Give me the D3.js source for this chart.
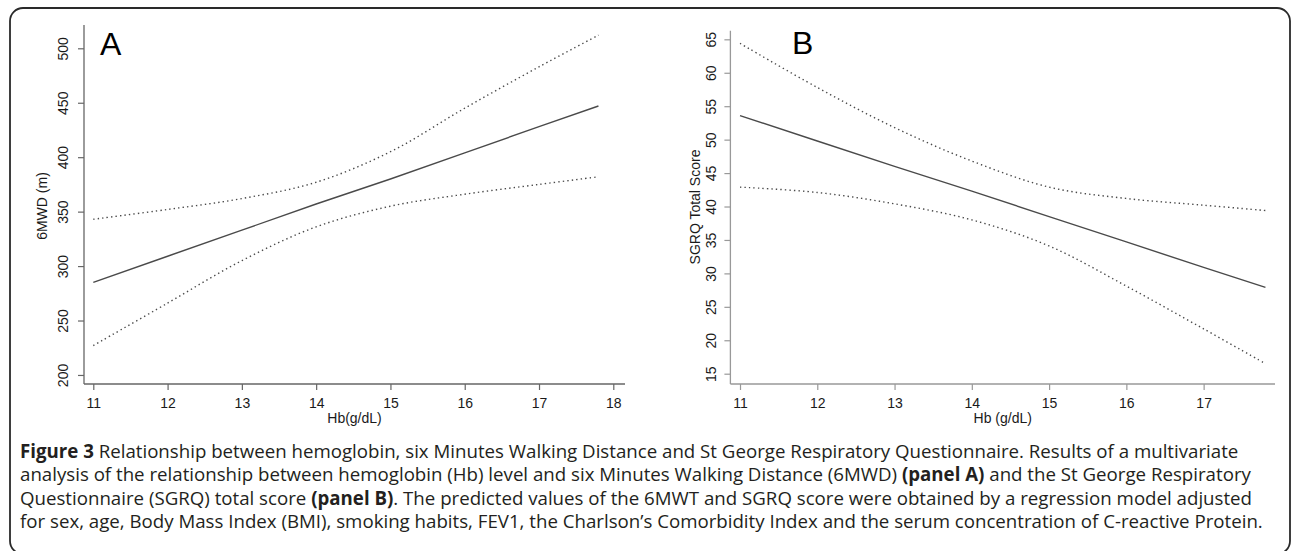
<!DOCTYPE html>
<html>
<head>
<meta charset="utf-8">
<script src="https://cdn.jsdelivr.net/npm/d3@7"></script>
<style>
  html, body { margin: 0; padding: 0; background: #fff; }
  svg { display: block; }
</style>
</head>
<body>
<svg id="chart" width="1292" height="551"></svg>
<script>
// ---- data ----
const hb = [11, 12, 13, 14, 15, 16, 17, 17.8];

// Panel A: 6MWD (m)
const mwdFit   = [285, 309, 333, 357, 380, 404, 428, 447];
const mwdUpper = [343, 352, 362, 377, 405, 445, 483, 512];
const mwdLower = [227, 266, 305, 336, 355, 366, 375, 382];

// Panel B: SGRQ total score
const sgrqFit   = [53.6, 49.8, 46.0, 42.3, 38.5, 34.7, 30.9, 27.9];
const sgrqUpper = [64.4, 57.8, 51.8, 46.8, 42.9, 41.2, 40.2, 39.4];
const sgrqLower = [42.9, 42.1, 40.4, 38.0, 34.1, 28.1, 21.7, 16.5];

const ticksA_x = [11, 12, 13, 14, 15, 16, 17, 18];
const ticksA_y = [200, 250, 300, 350, 400, 450, 500];
const ticksB_x = [11, 12, 13, 14, 15, 16, 17];
const ticksB_y = [15, 20, 25, 30, 35, 40, 45, 50, 55, 60, 65];

const captionLines = [
  [["Figure 3", true], [" Relationship between hemoglobin, six Minutes Walking Distance and St George Respiratory Questionnaire. Results of a multivariate", false]],
  [["analysis of the relationship between hemoglobin (Hb) level and six Minutes Walking Distance (6MWD) ", false], ["(panel A)", true], [" and the St George Respiratory", false]],
  [["Questionnaire (SGRQ) total score ", false], ["(panel B)", true], [". The predicted values of the 6MWT and SGRQ score were obtained by a regression model adjusted", false]],
  [["for sex, age, Body Mass Index (BMI), smoking habits, FEV1, the Charlson\u2019s Comorbidity Index and the serum concentration of C-reactive Protein.", false]]
];

// ---- drawing ----
const svg = d3.select("#chart");
const FONT = "Liberation Sans, Arial, Helvetica, sans-serif";

// frame
svg.append("rect")
  .attr("x", 10).attr("y", 8).attr("width", 1280).attr("height", 546)
  .attr("rx", 13).attr("ry", 13)
  .attr("fill", "none").attr("stroke", "#2a2a2a").attr("stroke-width", 1.8);

function panel(cfg) {
  const x = d3.scaleLinear().domain(cfg.xDomain).range(cfg.xRange);
  const y = d3.scaleLinear().domain(cfg.yDomain).range(cfg.yRange);
  const g = svg.append("g");

  // x axis
  const xa = g.append("g")
    .attr("transform", `translate(0,${cfg.yRange[0]})`)
    .call(d3.axisBottom(x).tickValues(cfg.xTicks).tickFormat(d3.format("d"))
      .tickSize(6).tickPadding(8).tickSizeOuter(0));
  xa.attr("font-family", FONT).attr("font-size", 14);
  xa.select(".domain").attr("stroke", cfg.axisColor).attr("stroke-width", 1.3)
    .attr("d", `M${cfg.xRange[0]},0H${cfg.xRange[1]}`);
  xa.selectAll(".tick line").attr("stroke", cfg.axisColor).attr("stroke-width", 1.2);
  xa.selectAll(".tick text").attr("fill", "#1a1a1a");

  // y axis
  const ya = g.append("g")
    .attr("transform", `translate(${cfg.xRange[0]},0)`)
    .call(d3.axisLeft(y).tickValues(cfg.yTicks).tickFormat(d3.format("d"))
      .tickSize(6).tickSizeOuter(0));
  ya.attr("font-family", FONT).attr("font-size", 14);
  ya.select(".domain").attr("stroke", cfg.axisColor).attr("stroke-width", 1.3)
    .attr("d", `M0,${cfg.yRange[0]}V${cfg.yRange[1]}`);
  ya.selectAll(".tick line").attr("stroke", cfg.axisColor).attr("stroke-width", 1.2);
  ya.selectAll(".tick text")
    .attr("fill", "#1a1a1a")
    .attr("x", null).attr("dy", null)
    .attr("text-anchor", "middle")
    .attr("transform", `translate(${-cfg.yLabelOff},0) rotate(-90)`);

  // axis titles
  g.append("text")
    .attr("x", (cfg.xRange[0] + cfg.xRange[1]) / 2).attr("y", cfg.xTitleY)
    .attr("text-anchor", "middle").attr("font-size", 14).attr("fill", "#1a1a1a")
    .attr("font-family", FONT).text(cfg.xTitle);
  g.append("text")
    .attr("transform", `translate(${cfg.yTitleX},${cfg.yTitleY}) rotate(-90)`)
    .attr("text-anchor", "middle").attr("font-size", 14).attr("fill", "#1a1a1a")
    .attr("font-family", FONT).text(cfg.yTitle);

  // panel letter
  g.append("text")
    .attr("x", cfg.letterX).attr("y", cfg.letterY)
    .attr("font-size", 32).attr("fill", "#000").attr("font-family", FONT)
    .text(cfg.letter);

  const pts = arr => hb.map((h, i) => [h, arr[i]]);
  const smooth = d3.line().x(d => x(d[0])).y(d => y(d[1])).curve(d3.curveCatmullRom.alpha(0.5));
  const straight = d3.line().x(d => x(d[0])).y(d => y(d[1]));

  [cfg.upper, cfg.lower].forEach(arr => {
    g.append("path").attr("d", smooth(pts(arr)))
      .attr("fill", "none").attr("stroke", "#4a4a4a").attr("stroke-width", 1.4)
      .attr("stroke-dasharray", "1.4,3.1");
  });
  g.append("path").attr("d", straight(pts(cfg.fit)))
    .attr("fill", "none").attr("stroke", "#4a4a4a").attr("stroke-width", 1.4);
}

panel({
  xDomain: [11 - 9.3 / 74.29, 18 + 11.7 / 74.29], xRange: [84, 625],
  yDomain: [191.7, 521.4], yRange: [384, 25],
  xTicks: ticksA_x, yTicks: ticksA_y, axisColor: "#666",
  yLabelOff: 16, xTitle: "Hb(g/dL)", xTitleY: 423, yTitle: "6MWD (m)", yTitleX: 47, yTitleY: 206,
  letter: "A", letterX: 100, letterY: 55,
  fit: mwdFit, upper: mwdUpper, lower: mwdLower
});

panel({
  xDomain: [11 - 9.6 / 77.2, 17 + 71.3 / 77.2], xRange: [730.4, 1275],
  yDomain: [13.46, 66.29], yRange: [384, 30.7],
  xTicks: ticksB_x, yTicks: ticksB_y, axisColor: "#999",
  yLabelOff: 14, xTitle: "Hb (g/dL)", xTitleY: 423, yTitle: "SGRQ Total Score", yTitleX: 700, yTitleY: 207,
  letter: "B", letterX: 792, letterY: 54,
  fit: sgrqFit, upper: sgrqUpper, lower: sgrqLower
});

// caption
const CAP_FONT = "Open Sans, Noto Sans, sans-serif";
const capG = svg.append("g");
const baselines = [457.5, 481, 504.5, 528];
const texts = captionLines.map((parts, i) => {
  const t = capG.append("text").attr("x", 20).attr("y", baselines[i])
    .attr("font-family", CAP_FONT).attr("font-size", 16).attr("fill", "#231f20");
  parts.forEach(([s, bold]) => t.append("tspan").attr("font-weight", bold ? 700 : 400).text(s));
  return t;
});
// size the caption so its second line spans the same width as in the figure
const w2 = texts[1].node().getComputedTextLength();
const fs = 16 * 1232 / w2;
texts.forEach(t => t.attr("font-size", fs));
</script>
</body>
</html>
